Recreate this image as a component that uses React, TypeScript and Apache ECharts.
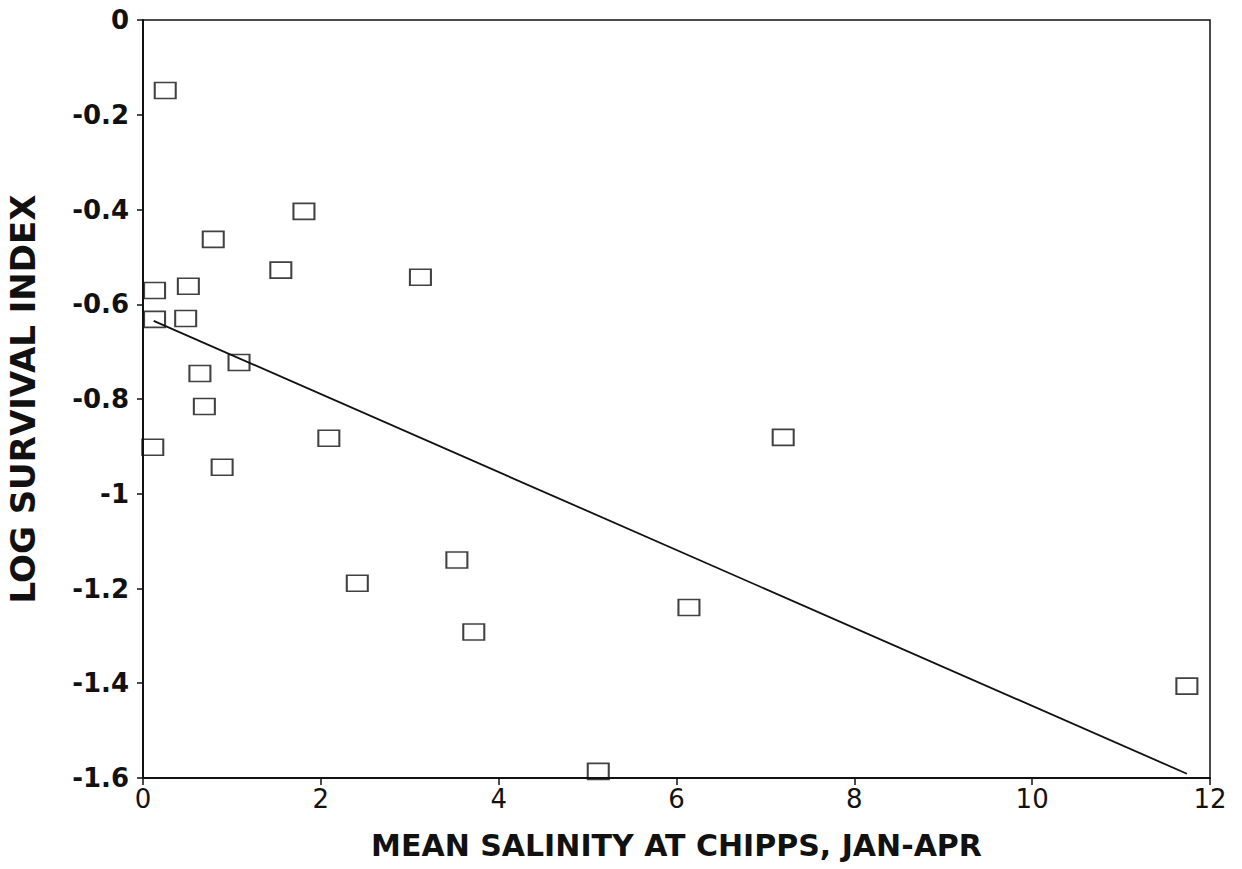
import React, { useEffect, useRef } from "react";
import * as echarts from "echarts";

const salinity = [0.25, 0.13, 0.13, 0.11, 0.51, 0.48, 0.79, 0.64, 0.69, 0.89, 1.08, 1.55, 1.81, 2.09, 2.41, 3.12, 3.53, 3.72, 5.12, 6.14, 7.2, 11.74];
const logSurvival = [-0.149, -0.571, -0.632, -0.902, -0.562, -0.63, -0.463, -0.746, -0.816, -0.944, -0.723, -0.528, -0.404, -0.883, -1.189, -0.543, -1.14, -1.292, -1.586, -1.24, -0.881, -1.406];
const fitX = [0.12, 11.74];
const fitY = [-0.635, -1.591];

const xTicks = { min: 0, max: 12, interval: 2 };
const yTicks = { min: -1.6, max: 0, interval: 0.2 };

const FONT = "'DejaVu Sans', 'Liberation Sans', Arial, sans-serif";
const INK = "#111";

export default function App() {
  const ref = useRef<HTMLDivElement>(null);
  useEffect(() => {
    if (!ref.current) return;
    const chart = echarts.init(ref.current, undefined, { renderer: "svg" });
    const points = salinity.map((x, i) => [x, logSurvival[i]]);
    const fit = fitX.map((x, i) => [x, fitY[i]]);
    chart.setOption({
      animation: false,
      backgroundColor: "#fff",
      grid: {
        left: 143,
        top: 20,
        right: 32,
        bottom: 91,
        containLabel: false,
        outerBoundsMode: "none",
        show: true,
        borderColor: INK,
        borderWidth: 1.5,
        backgroundColor: "transparent",
      },
      xAxis: {
        type: "value",
        min: xTicks.min,
        max: xTicks.max,
        interval: xTicks.interval,
        name: "MEAN SALINITY AT CHIPPS, JAN-APR",
        nameLocation: "middle",
        nameGap: 52,
        nameTextStyle: { fontFamily: FONT, fontWeight: "bold", fontSize: 30, color: INK },
        axisLine: { show: true, onZero: false, lineStyle: { color: INK, width: 2 } },
        axisTick: { show: true, inside: false, length: 7, lineStyle: { color: INK, width: 1.5 } },
        axisLabel: { fontFamily: FONT, fontSize: 26, color: INK, margin: 8 },
        splitLine: { show: false },
      },
      yAxis: {
        type: "value",
        min: yTicks.min,
        max: yTicks.max,
        interval: yTicks.interval,
        name: "LOG SURVIVAL INDEX",
        nameLocation: "middle",
        nameGap: 103,
        nameTextStyle: { fontFamily: FONT, fontWeight: "bold", fontSize: 34, color: INK },
        axisLine: { show: true, onZero: false, lineStyle: { color: INK, width: 2 } },
        axisTick: { show: true, inside: false, length: 6, lineStyle: { color: INK, width: 1.5 } },
        axisLabel: { fontFamily: FONT, fontWeight: "bold", fontSize: 26, color: INK, margin: 14 },
        splitLine: { show: false },
      },
      series: [
        {
          type: "line",
          data: fit,
          showSymbol: false,
          symbol: "none",
          lineStyle: { color: INK, width: 1.8 },
          z: 3,
        },
        {
          type: "scatter",
          data: points,
          symbol: "rect",
          symbolSize: [21, 16],
          itemStyle: { color: "rgba(0,0,0,0)", borderColor: INK, borderWidth: 1.8 },
          z: 2,
        },
      ],
    });
    return () => chart.dispose();
  }, []);
  return (
    <div
      ref={ref}
      style={{ position: "fixed", left: 0, top: 0, width: 1242, height: 869, background: "#fff" }}
    />
  );
}
